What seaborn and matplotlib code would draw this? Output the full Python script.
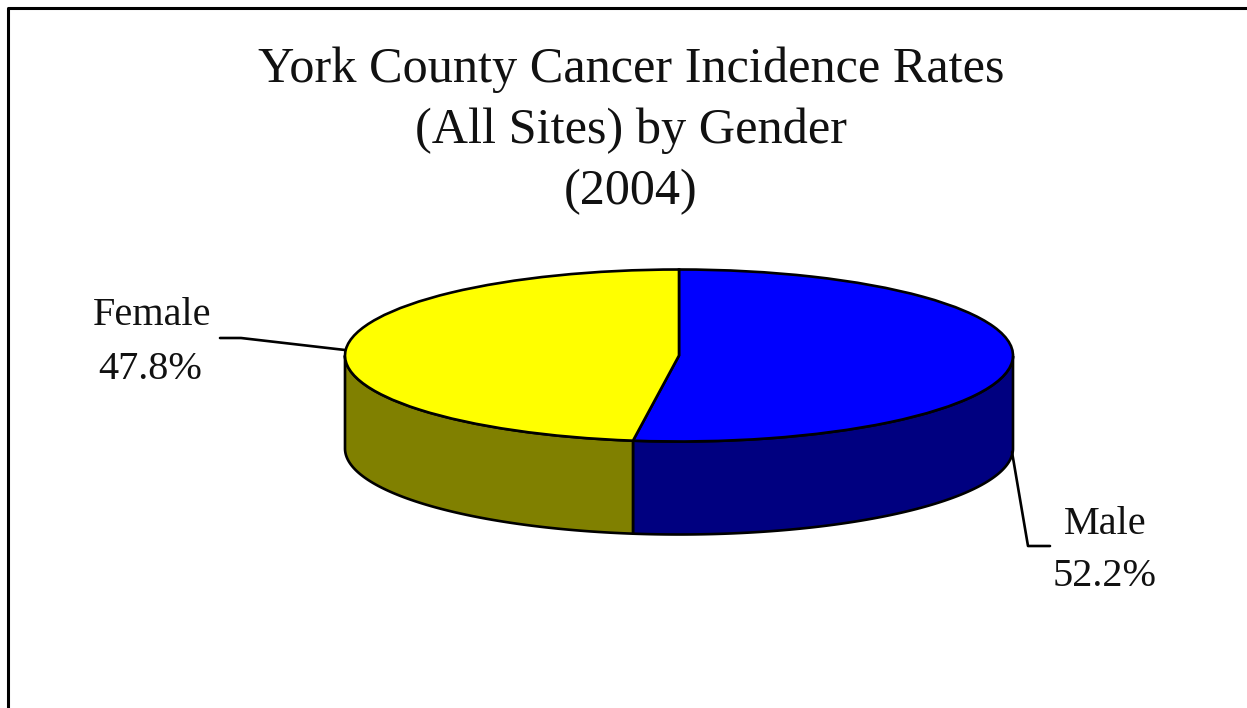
import numpy as np
import matplotlib
matplotlib.use("Agg")
import matplotlib.pyplot as plt
from matplotlib.patches import Polygon
import seaborn as sns

labels = ["Male", "Female"]
values = [52.2, 47.8]
value_text = ["52.2%", "47.8%"]
top_colors = ["#0000FF", "#FFFF00"]
side_colors = ["#000080", "#808000"]
title_lines = ["York County Cancer Incidence Rates", "(All Sites) by Gender", "(2004)"]

sns.set_theme(style="white")
plt.rcParams["font.family"] = ["Liberation Serif", "DejaVu Serif"]

W, H = 1247, 708
fig = plt.figure(figsize=(W / 100, H / 100), dpi=100, facecolor="white")
ax = fig.add_axes([0, 0, 1, 1])

CX, CY, RX, RY, DEPTH = 679, 355.5, 334, 86, 93
depth = DEPTH / RY
lw = 1.9

# Side wall: only the front half (below the ellipse centre) is visible
fractions = np.array(values) / sum(values)
edges = 90 - np.concatenate([[0], np.cumsum(fractions)]) * 360
for i, col in enumerate(side_colors):
    a0, a1 = edges[i], edges[i + 1]
    t = np.radians(np.linspace(a0, a1, 400))
    t = t[np.sin(t) <= 0]
    x, y = np.cos(t), np.sin(t)
    pts = np.column_stack([np.r_[x, x[::-1]], np.r_[y, y[::-1] - depth]])
    ax.add_patch(Polygon(pts, closed=True, facecolor=col, edgecolor="black", lw=lw, joinstyle="round", zorder=1))

ax.pie(values, colors=top_colors, startangle=90, counterclock=False, radius=1,
       wedgeprops=dict(edgecolor="black", linewidth=lw, zorder=2))

ax.set_aspect("auto")
ax.set_xlim((0 - CX) / RX, (W - CX) / RX)
ax.set_ylim((CY - H) / RY, CY / RY)
ax.axis("off")

def px(x, y):
    return ((x - CX) / RX, (CY - y) / RY)

# Chart frame
ax.plot(*zip(px(8, H), px(8, 8), px(W, 8)), color="black", lw=2.2, zorder=5, clip_on=False)

# Title
for line, y in zip(title_lines, [70, 131, 192]):
    ax.text(*px(631, y), line, ha="center", va="center", fontsize=36.2, color="#111111")

# Labels
ax.text(*px(152, 315), labels[1], ha="center", va="center", fontsize=29, color="#111111")
ax.text(*px(150, 369), value_text[1], ha="center", va="center", fontsize=29, color="#111111")
ax.text(*px(1105, 524), labels[0], ha="center", va="center", fontsize=29, color="#111111")
ax.text(*px(1105, 577), value_text[0], ha="center", va="center", fontsize=29, color="#111111")

# Leader lines
ax.plot(*zip(px(220, 338), px(241, 338), px(345, 350)), color="black", lw=lw, zorder=3)
ax.plot(*zip(px(1012, 452), px(1028, 546), px(1050, 546)), color="black", lw=lw, zorder=3)

fig.savefig("out.png", dpi=100, facecolor="white")
